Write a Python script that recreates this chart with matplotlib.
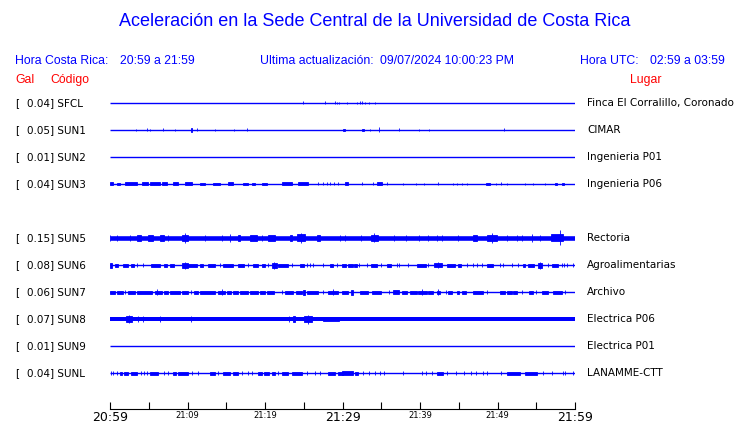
"""Acelerogramas de la Sede Central (UCR) - ultima hora."""
import matplotlib
matplotlib.use('Agg')
import matplotlib.pyplot as plt

BLUE = '#0000ff'
RED = '#ff0000'
W, H = 740, 423

# ---------------------------------------------------------------------
# Data
# ---------------------------------------------------------------------
codes = ['SFCL', 'SUN1', 'SUN2', 'SUN3', 'SUN5', 'SUN6', 'SUN7', 'SUN8', 'SUN9', 'SUNL']
peak_gal = [0.04, 0.05, 0.01, 0.04, 0.15, 0.08, 0.06, 0.07, 0.01, 0.04]
places = ['Finca El Corralillo, Coronado', 'CIMAR', 'Ingenieria P01', 'Ingenieria P06',
          'Rectoria', 'Agroalimentarias', 'Archivo', 'Electrica P06', 'Electrica P01',
          'LANAMME-CTT']
# half-width of the background noise band of each trace
base_amp = [0.5, 0.6, 0.5, 0.6, 2.3, 0.7, 0.7, 2.0, 0.5, 0.6]

# bursts: (start minute, end minute, half amplitude) - minutes after 20:59
sfcl_bursts = [(24.9, 24.9, 1.5), (27.7, 27.7, 1.5), (29.0, 29.0, 1.5), (29.3, 29.3, 1.2),
               (29.5, 29.5, 1.2), (30.6, 30.6, 1.2), (31.9, 31.9, 1.2), (32.3, 32.3, 1.5),
               (32.5, 32.5, 1.5), (32.9, 32.9, 1.2), (33.4, 33.4, 1.2), (34.2, 34.2, 1.0)]
sun1_bursts = [(3.3, 3.3, 1.2), (4.8, 4.8, 1.5), (5.2, 5.2, 1.2), (6.8, 6.8, 1.5),
               (8.4, 8.4, 1.0), (10.4, 10.6, 2.2), (11.2, 11.2, 1.5), (13.5, 13.5, 1.0),
               (16.0, 16.0, 1.0), (17.7, 17.7, 1.5), (30.1, 30.3, 1.3), (32.5, 32.8, 1.3),
               (33.5, 33.5, 1.0), (34.7, 34.7, 2.5), (37.3, 37.3, 1.5), (39.9, 39.9, 1.2),
               (41.2, 41.2, 1.2), (50.9, 50.9, 1.5)]
sun2_bursts = []
sun3_bursts = [(0.0, 0.4, 1.5), (0.9, 1.3, 1.2), (1.9, 3.5, 1.5), (4.1, 4.9, 1.5),
               (5.2, 6.5, 1.5), (6.7, 7.4, 1.5), (8.1, 8.8, 1.5), (9.7, 10.6, 1.5),
               (11.6, 12.3, 1.2), (13.3, 14.2, 1.2), (15.2, 15.9, 1.5), (17.2, 17.8, 1.2),
               (18.3, 18.7, 1.2), (19.6, 20.2, 1.2), (22.2, 23.5, 1.5), (24.3, 25.5, 1.5),
               (26.8, 26.8, 1.5), (27.5, 27.5, 1.5), (28.0, 28.0, 1.5), (28.4, 28.4, 1.5),
               (28.9, 28.9, 1.5), (29.4, 29.4, 1.5), (30.3, 30.7, 1.5), (32.5, 32.5, 1.5),
               (33.9, 33.9, 1.5), (34.4, 35.1, 1.5), (35.7, 35.7, 1.5), (37.8, 37.8, 1.2),
               (39.5, 39.5, 1.2), (40.5, 40.5, 1.2), (42.3, 42.3, 1.5), (44.2, 44.2, 1.2),
               (44.8, 44.8, 1.2), (45.4, 45.4, 1.2), (46.1, 46.1, 1.2), (48.5, 49.0, 1.2),
               (49.8, 49.8, 1.2), (50.4, 50.4, 1.5), (51.2, 51.2, 1.2), (53.5, 53.5, 1.2),
               (54.6, 54.6, 1.2), (56.1, 56.1, 1.2), (57.4, 57.7, 1.2), (58.3, 58.6, 1.2)]
sun5_bursts = [(0.0, 0.0, 3), (0.9, 0.9, 3), (2.6, 2.6, 3), (3.5, 4.0, 3.3), (4.9, 5.5, 3.3),
               (6.5, 7.0, 2.8), (7.5, 7.5, 3), (9.3, 10.1, 3.3), (9.7, 9.7, 5), (12.3, 12.3, 3),
               (14.4, 14.4, 3), (15.5, 15.5, 4), (16.5, 16.8, 2.8), (18.1, 19.0, 2.8),
               (19.6, 19.6, 3), (20.4, 21.3, 3.3), (23.2, 23.5, 3.3), (24.1, 25.2, 3.5),
               (24.6, 24.6, 5), (26.7, 27.1, 2.8), (29.7, 29.7, 3), (30.3, 30.3, 3),
               (32.4, 32.4, 3), (33.7, 34.6, 3.3), (34.0, 34.0, 4.5), (36.6, 36.6, 3),
               (38.2, 38.2, 3), (39.9, 39.9, 3), (41.0, 41.0, 3), (42.2, 42.2, 3),
               (42.8, 42.8, 3), (44.9, 44.9, 3), (46.8, 47.4, 2.8), (48.6, 49.9, 3.3),
               (49.3, 49.3, 5), (51.2, 51.2, 3), (52.5, 52.5, 3), (53.2, 53.2, 3),
               (54.4, 54.4, 4), (55.5, 55.5, 3), (56.9, 58.4, 3.5), (58.1, 58.1, 7.5)]
sun6_bursts = [(0.0, 0.26, 2.5), (0.65, 1.03, 1.5), (1.68, 2.32, 1.5), (2.71, 3.10, 1.5),
               (3.48, 3.48, 2), (4.26, 4.26, 2), (5.29, 6.45, 1.5), (6.97, 7.35, 1.5),
               (7.74, 8.26, 1.5), (9.29, 10.06, 2.5), (9.7, 9.7, 3.5), (10.06, 11.23, 1.5),
               (11.61, 12.0, 1.5), (12.65, 13.55, 1.5), (14.19, 14.19, 2), (14.58, 15.87, 1.5),
               (16.52, 17.29, 1.5), (17.81, 17.81, 2), (18.45, 19.1, 1.5), (19.61, 20.0, 1.5),
               (20.39, 20.39, 2), (20.9, 21.55, 2.5), (21.2, 21.2, 3.5), (21.68, 22.97, 1.5),
               (23.48, 23.48, 2), (24.52, 25.03, 1.5), (25.42, 25.42, 2), (25.81, 25.81, 2),
               (26.19, 26.19, 2), (27.48, 27.48, 2), (28.39, 28.77, 1.5), (29.29, 29.29, 2),
               (29.94, 30.45, 1.5), (30.71, 31.35, 1.5), (31.48, 31.87, 1.5), (32.13, 32.13, 2),
               (33.16, 33.16, 2), (33.68, 34.45, 1.5), (34.97, 34.97, 2), (35.74, 36.26, 1.5),
               (37.03, 37.03, 2), (37.29, 37.29, 2), (38.45, 38.45, 2), (39.61, 40.77, 1.5),
               (41.03, 41.03, 2), (41.81, 42.84, 2), (42.3, 42.3, 3), (43.48, 44.52, 1.5),
               (44.9, 45.29, 1.5), (46.06, 46.06, 2), (46.84, 46.84, 2), (47.35, 47.35, 2),
               (48.0, 48.0, 2), (48.65, 49.42, 1.5), (50.32, 50.32, 2), (50.71, 50.71, 2),
               (51.87, 51.87, 2), (52.65, 52.65, 2), (53.29, 53.55, 1.5), (53.94, 54.71, 1.5),
               (55.23, 55.74, 2.5), (55.5, 55.5, 3.5), (56.52, 56.52, 2), (57.03, 57.81, 1.5),
               (58.32, 58.32, 2), (58.58, 58.58, 2), (58.97, 58.97, 2), (59.74, 59.74, 2)]
sun7_bursts = [(0.0, 0.65, 1.5), (0.9, 1.68, 1.5), (1.94, 1.94, 2), (2.32, 3.23, 1.5),
               (3.48, 5.42, 1.5), (5.81, 6.71, 1.5), (6.06, 6.06, 3), (6.97, 7.48, 1.5),
               (7.74, 9.03, 1.5), (9.29, 10.06, 1.5), (10.45, 10.45, 2), (10.84, 11.35, 1.5),
               (11.61, 13.55, 1.5), (13.94, 14.84, 1.5), (14.45, 14.45, 3), (15.1, 15.61, 1.5),
               (15.87, 16.52, 1.5), (16.77, 17.81, 1.5), (18.06, 19.1, 1.5), (19.35, 20.0, 1.5),
               (20.26, 21.16, 1.5), (22.19, 22.19, 2), (22.58, 23.61, 1.5), (24.0, 24.77, 1.5),
               (24.9, 25.16, 2.5), (25.42, 26.84, 1.5), (27.48, 27.48, 2), (28.13, 29.42, 1.5),
               (28.77, 28.77, 3), (29.94, 30.71, 1.5), (31.1, 31.35, 2.5), (32.26, 33.29, 1.5),
               (33.81, 34.97, 1.5), (36.0, 36.0, 2), (36.52, 37.29, 1.8), (37.68, 38.32, 1.5),
               (38.71, 39.61, 1.5), (39.74, 40.9, 1.5), (40.26, 40.26, 3), (41.03, 41.68, 1.5),
               (42.19, 42.58, 1.5), (42.32, 42.32, 3), (43.35, 43.35, 2), (43.61, 44.13, 1.5),
               (44.77, 45.03, 1.5), (45.42, 45.94, 1.5), (46.84, 48.13, 1.5), (48.65, 48.65, 2),
               (50.32, 50.97, 1.5), (51.23, 51.87, 1.5), (52.0, 52.52, 1.5), (53.16, 53.16, 2),
               (54.06, 54.58, 1.5), (54.97, 54.97, 2), (55.74, 56.52, 1.5), (57.16, 58.32, 1.5),
               (58.71, 58.71, 2)]
sun8_bursts = [(2.1, 2.8, 3.0), (2.5, 2.5, 3.7), (3.6, 3.6, 3), (4.3, 4.3, 2.8),
               (6.5, 6.5, 3), (10.5, 10.5, 3), (23.1, 23.1, 2.8), (23.6, 23.9, 3.0),
               (25.0, 26.1, 3.0), (25.6, 25.6, 4.5), (27.5, 29.5, 2.4)]
sun9_bursts = []
sunl_bursts = [(0.13, 0.13, 2), (0.43, 0.43, 2), (0.86, 0.86, 2), (1.29, 1.59, 1.5),
               (1.85, 2.28, 1.5), (2.71, 3.44, 1.5), (4.0, 4.0, 2), (4.43, 4.43, 2),
               (4.73, 4.73, 2), (5.16, 6.24, 1.5), (7.0, 7.0, 2), (7.44, 7.44, 2),
               (8.17, 8.47, 1.5), (8.82, 10.11, 1.5), (10.54, 10.54, 2), (11.4, 11.4, 2),
               (12.9, 13.55, 1.5), (13.98, 13.98, 2), (14.62, 15.48, 1.5), (15.91, 16.47, 1.5),
               (17.08, 17.08, 2), (17.76, 17.76, 2), (18.28, 18.28, 2), (19.05, 19.57, 1.5),
               (19.91, 20.52, 1.5), (20.86, 21.29, 1.5), (21.72, 21.72, 2), (22.15, 23.0, 1.5),
               (23.44, 24.73, 1.5), (25.38, 25.38, 2), (26.45, 26.45, 2), (27.1, 27.1, 2),
               (28.09, 29.03, 1.5), (29.46, 30.1, 1.5), (29.9, 31.3, 1.8), (31.6, 32.04, 1.5),
               (32.69, 32.69, 2), (33.46, 33.46, 2), (34.19, 34.19, 2), (34.84, 34.84, 2),
               (35.35, 35.35, 2), (37.85, 37.85, 2), (40.22, 40.22, 2), (40.77, 40.77, 2),
               (41.51, 41.51, 2), (42.15, 43.0, 1.5), (43.53, 43.53, 2), (44.65, 44.65, 2),
               (45.68, 45.68, 2), (46.54, 46.54, 2), (47.23, 47.23, 2), (48.09, 48.09, 2),
               (48.6, 48.6, 2), (50.41, 50.41, 2), (51.18, 52.9, 1.5), (53.55, 55.06, 1.5),
               (55.83, 55.83, 2), (56.99, 56.99, 2), (58.41, 58.41, 2), (58.71, 58.71, 2),
               (59.7, 59.7, 2)]
bursts = [sfcl_bursts, sun1_bursts, sun2_bursts, sun3_bursts, sun5_bursts,
          sun6_bursts, sun7_bursts, sun8_bursts, sun9_bursts, sunl_bursts]

tick_minutes = list(range(0, 61, 5))
label_minutes = list(range(0, 61, 10))
tick_labels = ['20:59', '21:09', '21:19', '21:29', '21:39', '21:49', '21:59']
big_labels = ['20:59', '21:29', '21:59']

# ---------------------------------------------------------------------
# Layout (rows every 27 px, SUN4 slot left empty)
# ---------------------------------------------------------------------
ROWS = [0, 1, 2, 3, 5, 6, 7, 8, 9, 10]
ROW_STEP = 27

fig = plt.figure(figsize=(W / 100, H / 100), dpi=100)
ax = fig.add_axes([110 / W, (H - 409) / H, 465 / W, 319 / H])
ax.set_xlim(0, 60)
ax.set_ylim(306, -13)

for i, row in enumerate(ROWS):
    y = row * ROW_STEP
    ax.hlines(y, 0, 60, color=BLUE, lw=max(2 * base_amp[i] * 0.72, 1.0))
    if bursts[i]:
        t0 = [b[0] for b in bursts[i]]
        wd = [b[1] - b[0] for b in bursts[i]]
        amp = [b[2] for b in bursts[i]]
        ax.bar(t0, [2 * a for a in amp], width=wd, bottom=[y - a for a in amp],
               align='edge', color=BLUE, edgecolor=BLUE, linewidth=0.6)

    yf = 1 - (103 + row * ROW_STEP) / H
    fig.text(15 / W, yf, '[', fontsize=7.5, va='center', family='DejaVu Sans')
    fig.text(27 / W, yf, f'{peak_gal[i]:.2f}] {codes[i]}', fontsize=7.5,
             va='center', family='DejaVu Sans')
    fig.text(587 / W, yf, places[i], fontsize=7.5, va='center', family='DejaVu Sans')

for s in ['top', 'left', 'right']:
    ax.spines[s].set_visible(False)
ax.spines['bottom'].set_linewidth(0.8)
ax.set_yticks([])
ax.set_xticks(tick_minutes, minor=True)
ax.set_xticks(label_minutes)
ax.set_xticklabels(tick_labels, family='DejaVu Sans')
ax.tick_params(axis='x', which='both', direction='in', length=5, width=0.8, pad=1.5)
for lbl in ax.get_xticklabels():
    lbl.set_fontsize(9 if lbl.get_text() in big_labels else 6)

# ---------------------------------------------------------------------
# Header
# ---------------------------------------------------------------------
HF = 'Liberation Sans'
fig.text(375 / W, 1 - 22 / H,
         'Aceleración en la Sede Central de la Universidad de Costa Rica',
         ha='center', va='center', fontsize=13, color=BLUE, family=HF)

def head(x, y, s, color=BLUE):
    fig.text(x / W, 1 - y / H, s, va='center', fontsize=8.8, color=color, family=HF)

head(15, 61, 'Hora Costa Rica:')
head(120, 61, '20:59 a 21:59')
head(260, 61, 'Ultima actualización:')
head(380, 61, '09/07/2024 10:00:23 PM')
head(580, 61, 'Hora UTC:')
head(650, 61, '02:59 a 03:59')
head(15, 80, 'Gal', RED)
head(50, 80, 'Código', RED)
head(630, 80, 'Lugar', RED)

fig.savefig('out.png', dpi=100, facecolor='white')
